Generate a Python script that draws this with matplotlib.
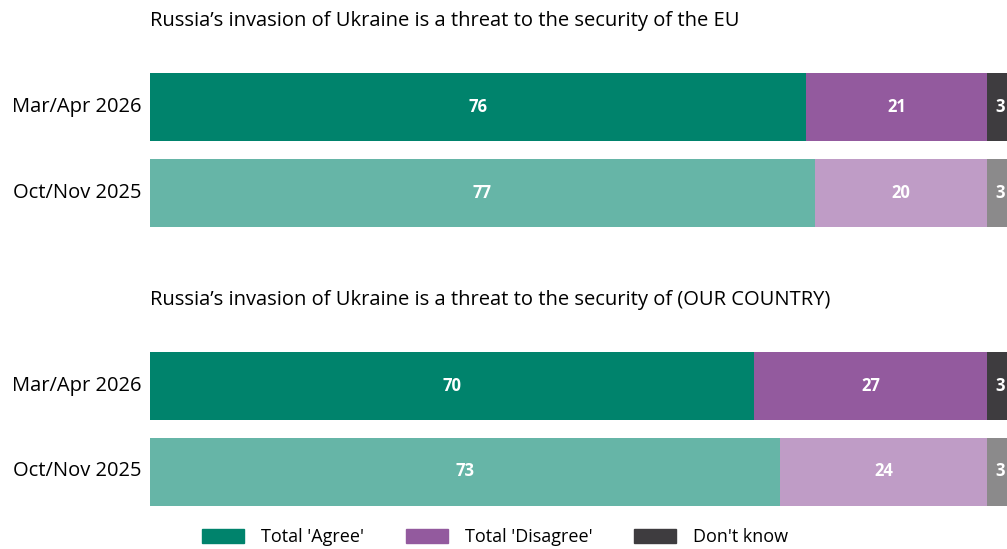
import matplotlib.pyplot as plt
from matplotlib.patches import Patch

titles = ["Russia\u2019s invasion of Ukraine is a threat to the security of the EU",
          "Russia\u2019s invasion of Ukraine is a threat to the security of (OUR COUNTRY)"]
waves = ['Mar/Apr 2026', 'Oct/Nov 2025']
agree = [[76, 77], [70, 73]]
disagree = [[21, 20], [27, 24]]
dont_know = [[3, 3], [3, 3]]
series = ["Total 'Agree'", "Total 'Disagree'", "Don't know"]

dark = ['#00836c', '#935a9e', '#3e3c3f']
light = ['#66b5a7', '#bf9cc6', '#8b8a8b']

plt.rcParams['font.family'] = ['Open Sans', 'DejaVu Sans']

fig = plt.figure(figsize=(10.07, 5.49), dpi=100)
# axes in pixel units vertically, percent horizontally (runs past the right edge)
ax = fig.add_axes([150 / 1007, 0, 863 / 1007, 1])
ax.set_xlim(0, 100)
ax.set_ylim(549, 0)
ax.axis('off')

group_top = [107, 386]
row_step = 85.5
bar_h = 68

for g in range(len(titles)):
    ys = [group_top[g] + i * row_step for i in range(len(waves))]
    for i, y in enumerate(ys):
        vals = [agree[g][i], disagree[g][i], dont_know[g][i]]
        cols = dark if i == 0 else light
        left = 0
        for v, c in zip(vals, cols):
            ax.barh(y, v, left=left, height=bar_h, color=c, linewidth=0)
            ax.text(left + v / 2, y, str(v), ha='center', va='center',
                    color='white', fontsize=12, fontweight='bold')
            left += v
        ax.text(-1, y, waves[i], ha='right', va='center', fontsize=14.5, clip_on=False)
    ax.text(0, ys[0] - 86, titles[g], ha='left', va='center', fontsize=14.5)

handles = [Patch(color=c) for c in dark]
fig.legend(handles, series, loc='center', bbox_to_anchor=(495 / 1007, 1 - 537 / 549),
           ncol=3, frameon=False, fontsize=13, handlelength=2.33, handleheight=0.83,
           columnspacing=2.3, handletextpad=0.95)

fig.savefig('out.png', dpi=100)
